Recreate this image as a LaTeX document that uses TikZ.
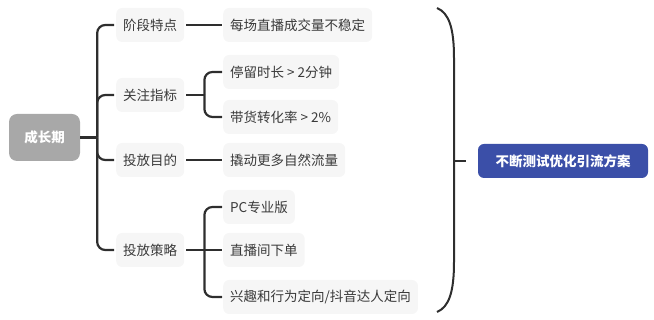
\documentclass[tikz,border=0pt]{standalone}
\usepackage{fontspec}
\setmainfont{Noto Sans CJK SC}
\definecolor{boxbg}{HTML}{F6F6F6}
\definecolor{txt}{HTML}{3A3A3A}
\definecolor{ln}{HTML}{2E2E2E}
\definecolor{rootbg}{HTML}{A8A8A8}
\definecolor{bluebg}{HTML}{3B4FA8}
\begin{document}
\begin{tikzpicture}[x=1pt,y=1pt,
  lvl/.style={fill=boxbg, rounded corners=6pt, text=txt, font=\fontsize{13.5}{15}\selectfont,
    inner xsep=7pt, inner ysep=0pt, minimum height=34pt, anchor=west},
  rootbox/.style={fill=rootbg, rounded corners=8pt, text=white, font=\fontsize{13.5}{15}\selectfont\bfseries,
    minimum width=71pt, minimum height=47pt, inner sep=0pt},
  bluebox/.style={fill=bluebg, rounded corners=6pt, text=white, font=\fontsize{13.5}{15}\selectfont\bfseries,
    minimum width=170pt, minimum height=34pt, inner sep=0pt},
  conn/.style={draw=ln, line width=2.2pt},
  elbow/.style={conn, rounded corners=8pt}]
\useasboundingbox (0,0) rectangle (654,320);

\node[rootbox] (root) at (44.5,182.5) {成长期};

\node[lvl] (b1) at (116,295) {阶段特点};
\node[lvl] (b2) at (116,225) {关注指标};
\node[lvl] (b3) at (116,160) {投放目的};
\node[lvl] (b4) at (116,70)  {投放策略};

\node[lvl] (c1)  at (223,295) {每场直播成交量不稳定};
\node[lvl] (c21) at (223,248) {停留时长 > 2分钟};
\node[lvl] (c22) at (223,203) {带货转化率 > 2\%};
\node[lvl] (c3)  at (223,160) {撬动更多自然流量};
\node[lvl] (c41) at (223,113) {PC专业版};
\node[lvl] (c42) at (223,70)  {直播间下单};
\node[lvl] (c43) at (223,23)  {兴趣和行为定向/抖音达人定向};

\node[bluebox] (goal) at (563,159) {不断测试优化引流方案};

% level 1 connectors
\draw[conn] (root.east) -- ++(17,0) coordinate (j);
\foreach \b in {b1,b2,b3,b4}
  \draw[elbow, shorten >=2pt] (j) |- (\b.west);

% level 2 connectors
\draw[conn, shorten <=2pt, shorten >=1pt] (b1.east) -- (c1.west);
\draw[conn, shorten >=1pt] (b3.east) ++(2,0) -- (c3.west);
\draw[conn] (b2.east) ++(2,0) -- ++(18,0) coordinate (k2);
\draw[elbow, shorten >=1pt] (k2) |- (c21.west);
\draw[elbow, shorten >=1pt] (k2) |- (c22.west);
\draw[conn] (b4.east) ++(2,0) -- ++(18,0) coordinate (k4);
\draw[elbow, shorten >=1pt] (k4) |- (c41.west);
\draw[conn, shorten >=1pt] (k4) -- (c42.west);
\draw[elbow, shorten >=1pt] (k4) |- (c43.west);

% summary brace
\draw[conn, line width=2pt] (437,312) .. controls (449,307) and (454,292) .. (454,262)
  -- (454,58) .. controls (454,28) and (449,13) .. (437,8);
\coordinate (t1) at (454,159);
\coordinate (t2) at (466,159);
\draw[conn, line width=2pt] (t1) -- (t2);
\end{tikzpicture}
\end{document}
